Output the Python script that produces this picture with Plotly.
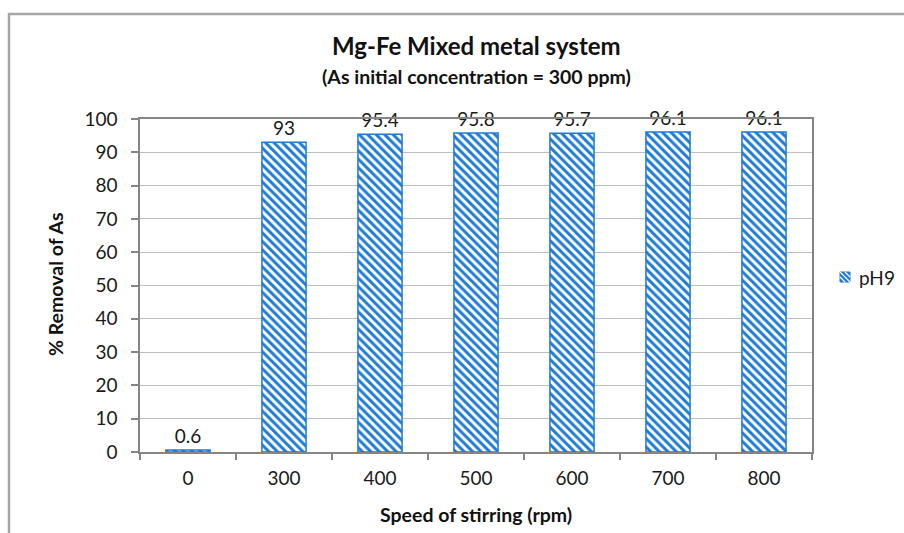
import plotly.graph_objects as go

categories = ["0", "300", "400", "500", "600", "700", "800"]
values = [0.6, 93, 95.4, 95.8, 95.7, 96.1, 96.1]
labels = ["0.6", "93", "95.4", "95.8", "95.7", "96.1", "96.1"]
series_name = "pH9"
yticks = [0, 10, 20, 30, 40, 50, 60, 70, 80, 90, 100]

BLUE = "#1F7BD6"
FONT = "Lato"
TXT = "#1a1a1a"

W, H = 904, 533
L, R, T, B = 140, 812, 119, 452
MR = 0  # right margin; plot area ends at R via domain
PW = W - L - MR


def px(X):
    return (X - L) / PW


def py(Y):
    return (B - Y) / (B - T)


fig = go.Figure()
fig.add_trace(go.Bar(
    x=categories,
    y=values,
    name=series_name,
    text=labels,
    texttemplate="%{text}",
    textposition="outside",
    cliponaxis=False,
    textfont=dict(family=FONT, size=19, color=TXT),
    marker=dict(
        color="white",
        line=dict(color=BLUE, width=1.5),
        pattern=dict(shape="\\", fgcolor=BLUE, bgcolor="white", size=6, solidity=0.5, fillmode="replace"),
    ),
    showlegend=False,
))

# custom legend swatch (blue with white diagonal stripes)
sx0, sx1, sy0, sy1 = 840, 850, 272, 282
shapes = [
    dict(type="rect", xref="paper", yref="paper",
         x0=px(9), x1=px(910), y0=py(540), y1=py(14),
         line=dict(color="#A6A6A6", width=2.5), fillcolor="rgba(0,0,0,0)", layer="below"),
    dict(type="rect", xref="paper", yref="paper",
         x0=px(sx0), x1=px(sx1), y0=py(sy1), y1=py(sy0),
         line=dict(color=BLUE, width=1), fillcolor=BLUE),
]
for off in (-5, 0, 5):
    shapes.append(dict(type="line", xref="paper", yref="paper",
                       x0=px(sx0 + max(off, 0)), y0=py(sy0 + max(-off, 0)),
                       x1=px(sx1 + min(off, 0)), y1=py(sy1 - max(off, 0)),
                       line=dict(color="white", width=1.3)))

fig.update_layout(
    width=W, height=H,
    margin=dict(l=L, r=MR, t=T, b=H - B, pad=0),
    paper_bgcolor="white",
    plot_bgcolor="white",
    bargap=0.54,
    font=dict(family=FONT, size=19, color=TXT),
    showlegend=False,
    xaxis=dict(
        type="category",
        domain=[0, px(R)],
        showgrid=False,
        showline=True, linecolor="#858585", linewidth=1.5, mirror=True,
        ticks="outside", tickson="boundaries", ticklen=6, tickcolor="#858585", tickwidth=1.5,
        tickfont=dict(family=FONT, size=19, color=TXT),
        ticklabelstandoff=8,
    ),
    yaxis=dict(
        range=[0, 100],
        tickvals=yticks,
        showgrid=True, gridcolor="#BEBEBE", gridwidth=1,
        showline=True, linecolor="#858585", linewidth=1.5, mirror=True,
        ticks="outside", ticklen=7, tickcolor="#858585", tickwidth=1.5,
        tickfont=dict(family=FONT, size=19, color=TXT),
        ticklabelstandoff=10,
        zeroline=False,
    ),
    shapes=shapes,
    annotations=[
        dict(text=series_name, xref="paper", yref="paper",
             x=px(857), y=py(277), xanchor="left", yanchor="middle", showarrow=False,
             font=dict(family=FONT, size=19, color=TXT)),
        dict(text="<b>Mg-Fe Mixed metal system</b>", xref="paper", yref="paper",
             x=px(476), y=py(46), xanchor="center", yanchor="middle", showarrow=False,
             font=dict(family=FONT, size=24, color="#111111")),
        dict(text="<b>(As initial concentration = 300 ppm)</b>", xref="paper", yref="paper",
             x=px(476), y=py(77), xanchor="center", yanchor="middle", showarrow=False,
             font=dict(family=FONT, size=19.5, color="#111111")),
        dict(text="<b>Speed of stirring (rpm)</b>", xref="paper", yref="paper",
             x=px(476), y=py(514), xanchor="center", yanchor="middle", showarrow=False,
             font=dict(family=FONT, size=19.5, color="#111111")),
        dict(text="<b>% Removal of As</b>", xref="paper", yref="paper",
             x=px(55), y=py(284), xanchor="center", yanchor="middle", showarrow=False,
             textangle=-90, font=dict(family=FONT, size=19.5, color="#111111")),
    ],
)

fig.write_html("out.html")
